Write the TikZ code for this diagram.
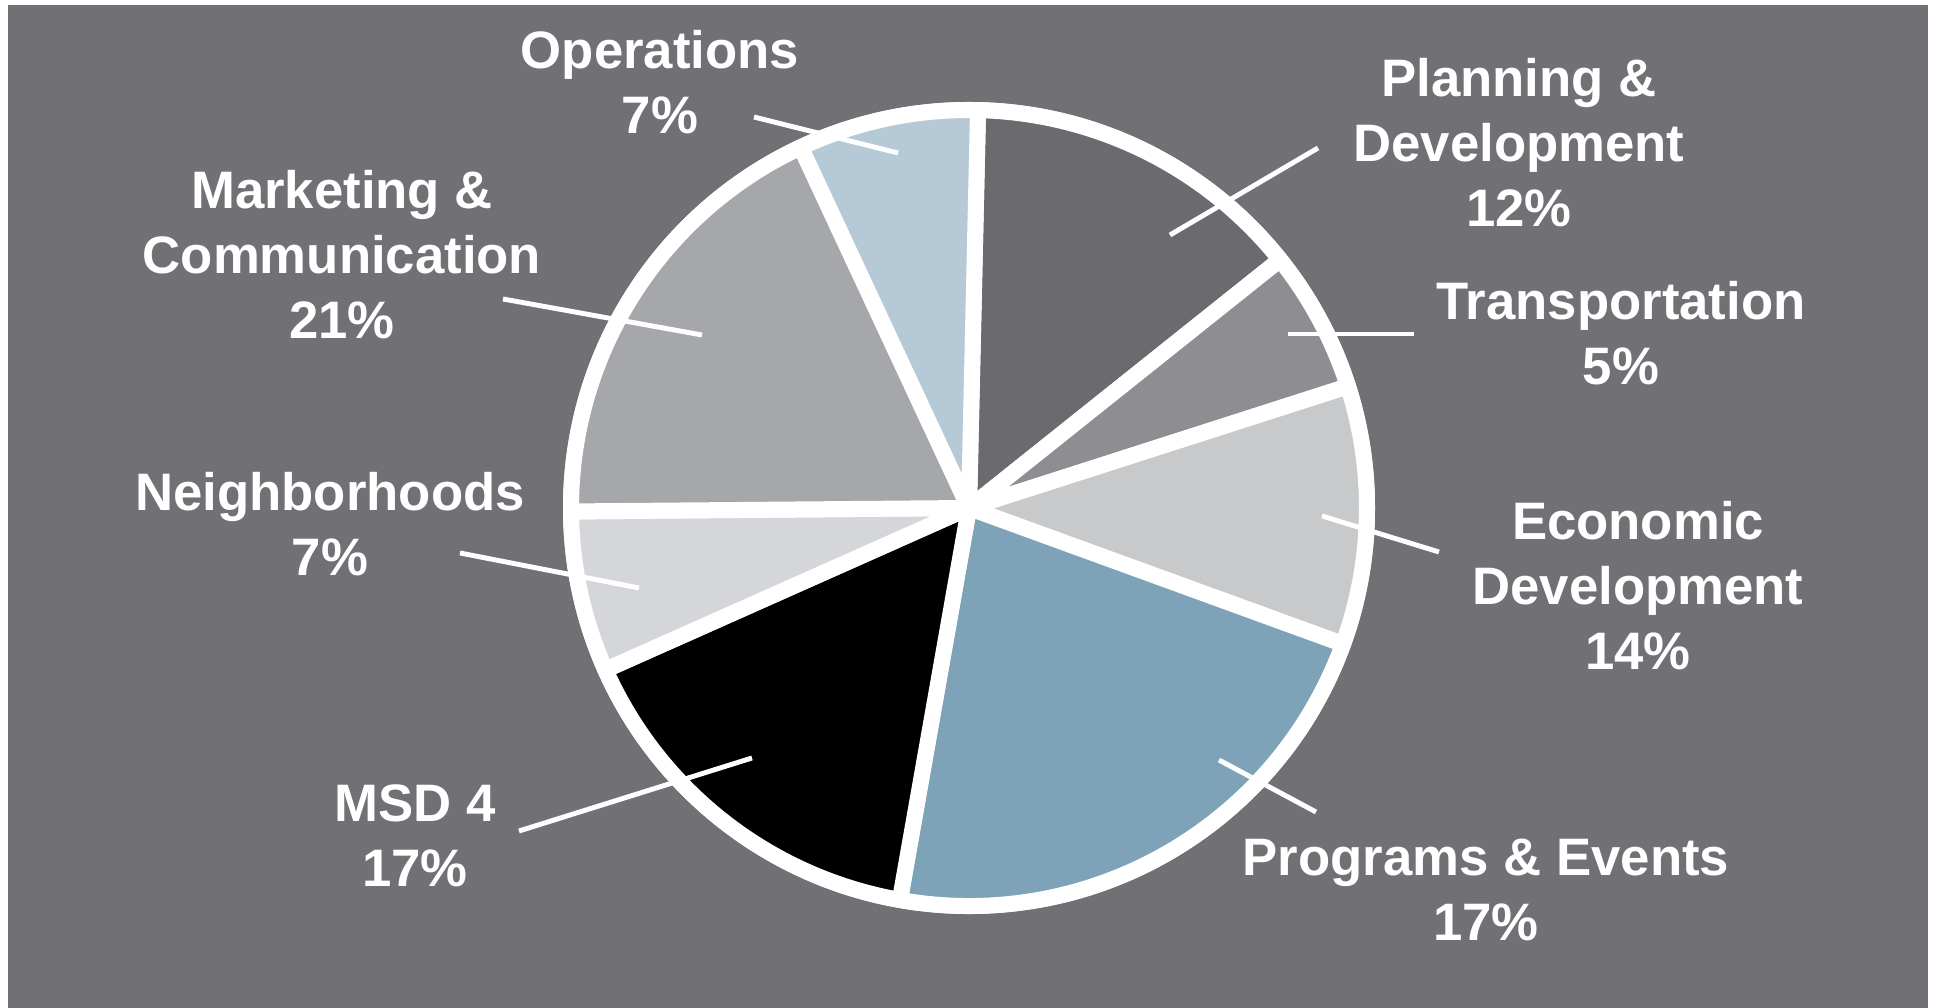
\documentclass[tikz,border=0pt]{standalone}
\usepackage{fontspec}
\setmainfont{Liberation Sans}
\usepackage{tikz}

\definecolor{backgray}{RGB}{113,112,117}
\definecolor{planning}{RGB}{107,106,111}
\definecolor{transport}{RGB}{142,142,146}
\definecolor{economic}{RGB}{200,201,203}
\definecolor{programs}{RGB}{126,162,184}
\definecolor{msdfour}{RGB}{0,0,0}
\definecolor{neighbor}{RGB}{212,214,217}
\definecolor{marketing}{RGB}{166,167,170}
\definecolor{operations}{RGB}{182,201,214}

\begin{document}
\begin{tikzpicture}[
        slice/.style={draw=white, line width=0.16cm, line join=round},
        label/.style={text=white, align=center, font=\bfseries\fontsize{15}{18.5}\selectfont},
        leader/.style={draw=white, line width=1.4pt}
    ]
    \useasboundingbox (0,0) rectangle (19.37,10.08);
    \fill[white] (0,0) rectangle (19.37,10.08);
    \fill[backgray] (0.08,0) rectangle (19.28,10.03);

    % Pie
    \coordinate (c) at (9.69,5.00);
    \fill[white] (c) circle (4.06);
    \filldraw[slice, fill=planning] (c) -- ++(38.6:3.98) arc[start angle=38.6, end angle=88.7, radius=3.98] -- cycle;
    \filldraw[slice, fill=transport] (c) -- ++(17.8:3.98) arc[start angle=17.8, end angle=38.6, radius=3.98] -- cycle;
    \filldraw[slice, fill=economic] (c) -- ++(-20:3.98) arc[start angle=-20, end angle=17.8, radius=3.98] -- cycle;
    \filldraw[slice, fill=programs] (c) -- ++(-100:3.98) arc[start angle=-100, end angle=-20, radius=3.98] -- cycle;
    \filldraw[slice, fill=msdfour] (c) -- ++(-156:3.98) arc[start angle=-156, end angle=-100, radius=3.98] -- cycle;
    \filldraw[slice, fill=neighbor] (c) -- ++(180.5:3.98) arc[start angle=180.5, end angle=204, radius=3.98] -- cycle;
    \filldraw[slice, fill=marketing] (c) -- ++(115:3.98) arc[start angle=115, end angle=180.5, radius=3.98] -- cycle;
    \filldraw[slice, fill=operations] (c) -- ++(88.7:3.98) arc[start angle=88.7, end angle=115, radius=3.98] -- cycle;

    % Labels
    \node[label] (ops) at (6.60,9.26) {Operations\\7\%};
    \node[label] (plan) at (15.19,8.65) {Planning \&\\Development\\12\%};
    \node[label] (mark) at (3.42,7.53) {Marketing \&\\Communication\\21\%};
    \node[label] (trans) at (16.21,6.75) {Transportation\\5\%};
    \node[label] (neigh) at (3.30,4.84) {Neighborhoods\\7\%};
    \node[label] (econ) at (16.38,4.22) {Economic\\Development\\14\%};
    \node[label] (msd) at (4.15,1.72) {MSD 4\\17\%};
    \node[label] (prog) at (14.86,1.18) {Programs \& Events\\17\%};

    % Leader lines
    \coordinate (opsA) at (7.54,8.91);   \coordinate (opsB) at (8.98,8.55);
    \coordinate (planA) at (13.18,8.60); \coordinate (planB) at (11.70,7.73);
    \coordinate (transA) at (14.14,6.74); \coordinate (transB) at (12.88,6.74);
    \coordinate (econA) at (14.39,4.56); \coordinate (econB) at (13.22,4.92);
    \coordinate (progA) at (13.16,1.96); \coordinate (progB) at (12.19,2.48);
    \coordinate (msdA) at (5.19,1.77);   \coordinate (msdB) at (7.52,2.50);
    \coordinate (neighA) at (4.60,4.55); \coordinate (neighB) at (6.39,4.20);
    \coordinate (markA) at (5.03,7.09);  \coordinate (markB) at (7.02,6.73);

    \draw[leader] (opsA) -- (opsB);
    \draw[leader] (planA) -- (planB);
    \draw[leader] (transA) -- (transB);
    \draw[leader] (econA) -- (econB);
    \draw[leader] (progA) -- (progB);
    \draw[leader] (msdA) -- (msdB);
    \draw[leader] (neighA) -- (neighB);
    \draw[leader] (markA) -- (markB);
\end{tikzpicture}
\end{document}
